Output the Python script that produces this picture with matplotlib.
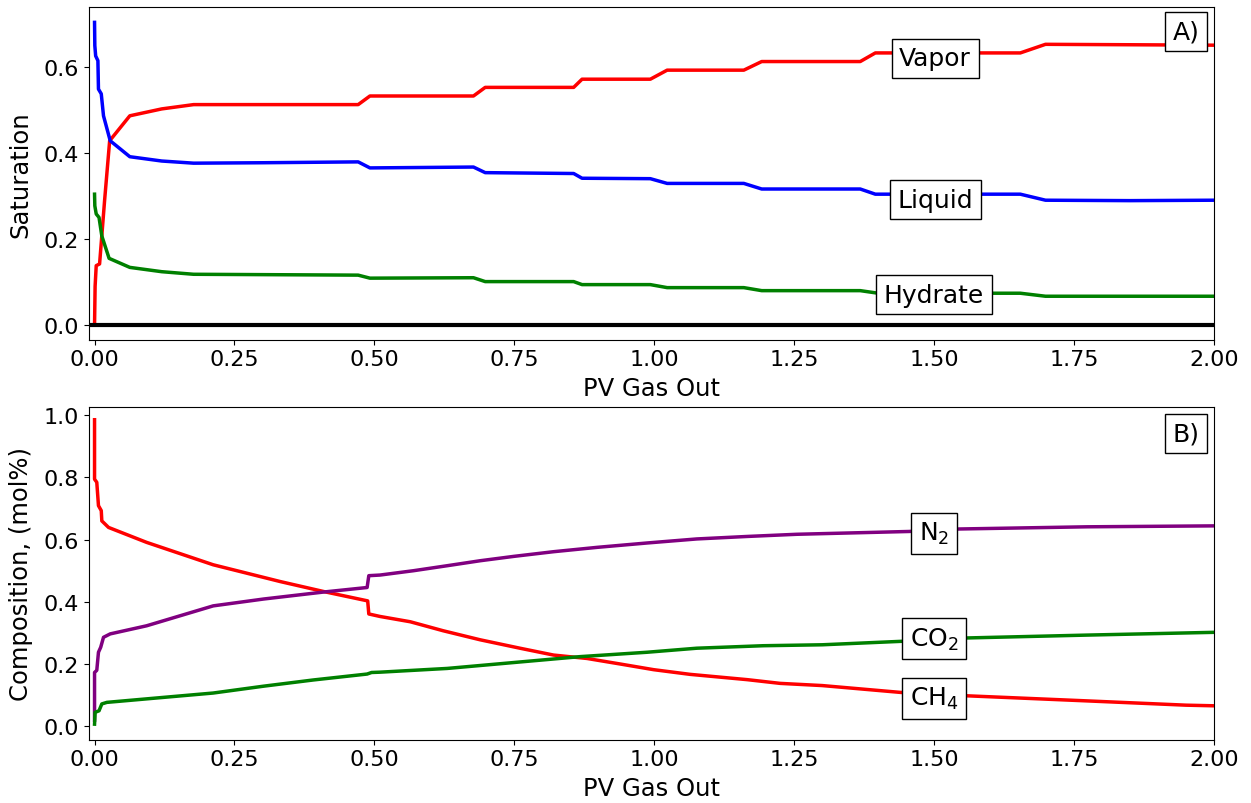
import matplotlib
matplotlib.use("Agg")
import matplotlib.pyplot as plt

# --- Saturation vs pore volumes of gas produced ---
vapor_x = [0.0, 0.001, 0.003, 0.009, 0.018, 0.027, 0.063, 0.12, 0.177, 0.471, 0.492,
           0.677, 0.698, 0.856, 0.871, 0.993, 1.023, 1.16, 1.192, 1.368, 1.395,
           1.654, 1.699, 2.0]
vapor_y = [0.0, 0.09, 0.138, 0.142, 0.29, 0.428, 0.486, 0.502, 0.512, 0.512, 0.532,
           0.532, 0.552, 0.552, 0.571, 0.571, 0.592, 0.592, 0.612, 0.612, 0.632,
           0.632, 0.652, 0.650]

liquid_x = [0.0, 0.0005, 0.002, 0.006, 0.007, 0.012, 0.016, 0.028, 0.063, 0.12, 0.177,
            0.3, 0.471, 0.492, 0.677, 0.698, 0.856, 0.871, 0.993, 1.023, 1.16, 1.192,
            1.368, 1.395, 1.654, 1.699, 1.85, 2.0]
liquid_y = [0.703, 0.649, 0.625, 0.614, 0.548, 0.537, 0.486, 0.428, 0.391, 0.381, 0.376,
            0.377, 0.379, 0.365, 0.367, 0.354, 0.352, 0.341, 0.340, 0.329, 0.329, 0.316,
            0.316, 0.304, 0.304, 0.290, 0.289, 0.290]

hydrate_x = [0.0, 0.0005, 0.003, 0.008, 0.013, 0.026, 0.063, 0.12, 0.177, 0.471, 0.492,
             0.677, 0.698, 0.856, 0.871, 0.993, 1.023, 1.16, 1.192, 1.368, 1.40,
             1.654, 1.699, 2.0]
hydrate_y = [0.304, 0.277, 0.258, 0.250, 0.207, 0.155, 0.134, 0.124, 0.118, 0.116, 0.109,
             0.110, 0.101, 0.101, 0.094, 0.094, 0.087, 0.087, 0.080, 0.080, 0.074,
             0.074, 0.067, 0.067]

# --- Produced gas composition ---
ch4_x = [0.0, 0.0, 0.004, 0.007, 0.012, 0.013, 0.025, 0.093, 0.212, 0.332, 0.412, 0.488,
         0.49, 0.51, 0.564, 0.623, 0.689, 0.76, 0.82, 0.88, 0.94, 0.999, 1.064, 1.166,
         1.225, 1.30, 1.44, 1.56, 1.77, 1.95, 2.0]
ch4_y = [0.985, 0.794, 0.784, 0.709, 0.693, 0.660, 0.639, 0.591, 0.519, 0.465, 0.432, 0.403,
         0.361, 0.353, 0.336, 0.307, 0.278, 0.251, 0.229, 0.218, 0.200, 0.182, 0.167, 0.150,
         0.138, 0.131, 0.109, 0.098, 0.082, 0.068, 0.066]

n2_x = [0.0, 0.0, 0.004, 0.007, 0.011, 0.016, 0.028, 0.093, 0.212, 0.302, 0.412, 0.487,
        0.49, 0.51, 0.57, 0.63, 0.689, 0.749, 0.82, 0.898, 0.987, 1.076, 1.166, 1.255,
        1.455, 1.545, 1.773, 2.0]
n2_y = [0.02, 0.173, 0.180, 0.238, 0.254, 0.286, 0.297, 0.323, 0.387, 0.409, 0.432, 0.446,
        0.484, 0.486, 0.500, 0.516, 0.532, 0.546, 0.561, 0.575, 0.589, 0.602, 0.610, 0.617,
        0.626, 0.634, 0.641, 0.644]

co2_x = [0.0, 0.001, 0.008, 0.013, 0.022, 0.123, 0.212, 0.302, 0.391, 0.487, 0.495, 0.51,
         0.63, 0.749, 0.868, 0.987, 1.076, 1.195, 1.30, 1.44, 1.56, 1.77, 2.0]
co2_y = [0.007, 0.045, 0.050, 0.072, 0.077, 0.093, 0.107, 0.129, 0.149, 0.168, 0.173, 0.174,
         0.186, 0.205, 0.224, 0.238, 0.251, 0.259, 0.262, 0.273, 0.284, 0.293, 0.302]

plt.rcParams["font.family"] = "DejaVu Sans"
plt.rcParams["font.size"] = 16
plt.rcParams["axes.labelsize"] = 17.5

fig = plt.figure(figsize=(12.51, 8.04), dpi=100)
ax1 = fig.add_axes([0.0711, 0.5762, 0.8993, 0.4135])
ax2 = fig.add_axes([0.0711, 0.0787, 0.8993, 0.4135])

lw = 2.5
box = dict(boxstyle="square,pad=0.3", facecolor="white", edgecolor="black", linewidth=1)
ticks_x = [0.0, 0.25, 0.5, 0.75, 1.0, 1.25, 1.5, 1.75, 2.0]

ax1.plot(vapor_x, vapor_y, color="red", lw=lw)
ax1.plot(liquid_x, liquid_y, color="blue", lw=lw)
ax1.plot(hydrate_x, hydrate_y, color="green", lw=lw)
ax1.axhline(0.0, color="black", lw=3)
ax1.set_xlim(-0.01, 2.0)
ax1.set_ylim(-0.034, 0.738)
ax1.set_yticks([0.0, 0.2, 0.4, 0.6])
ax1.set_xticks(ticks_x)
ax1.set_xlabel("PV Gas Out", labelpad=5)
ax1.set_ylabel("Saturation", labelpad=8)
ax1.text(1.502, 0.620, "Vapor", fontsize=18, ha="center", va="center", bbox=box)
ax1.text(1.502, 0.2915, "Liquid", fontsize=18, ha="center", va="center", bbox=box)
ax1.text(1.50, 0.070, "Hydrate", fontsize=18, ha="center", va="center", bbox=box)
ax1.text(0.975, 0.927, "A)", fontsize=18, ha="center", va="center",
         transform=ax1.transAxes, bbox=box)

ax2.plot(ch4_x, ch4_y, color="red", lw=lw)
ax2.plot(n2_x, n2_y, color="purple", lw=lw)
ax2.plot(co2_x, co2_y, color="green", lw=lw)
ax2.set_xlim(-0.01, 2.0)
ax2.set_ylim(-0.043, 1.025)
ax2.set_yticks([0.0, 0.2, 0.4, 0.6, 0.8, 1.0])
ax2.set_xticks(ticks_x)
ax2.set_xlabel("PV Gas Out", labelpad=5)
ax2.set_ylabel("Composition, (mol%)", labelpad=8)
ax2.text(1.50, 0.620, "N$_2$", fontsize=18, ha="center", va="center", bbox=box)
ax2.text(1.50, 0.281, "CO$_2$", fontsize=18, ha="center", va="center", bbox=box)
ax2.text(1.50, 0.090, "CH$_4$", fontsize=18, ha="center", va="center", bbox=box)
ax2.text(0.975, 0.921, "B)", fontsize=18, ha="center", va="center",
         transform=ax2.transAxes, bbox=box)

fig.savefig("out.png", dpi=100)
